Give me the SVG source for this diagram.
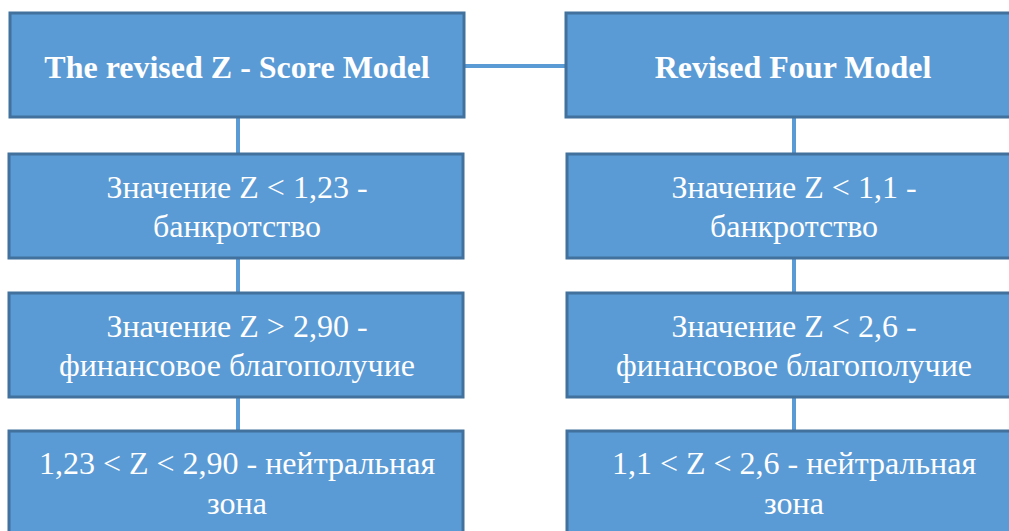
<svg xmlns="http://www.w3.org/2000/svg" width="1009" height="531" viewBox="0 0 1009 531">
<style>
.box{fill:#5B9BD5;stroke:#41719C;stroke-width:3}
.t{font-family:'Liberation Serif','Times New Roman','DejaVu Serif',serif;fill:#FFFFFF;text-anchor:middle;font-size:32px}
.h{font-weight:bold}
.c{stroke:#5B9BD5;stroke-width:4;fill:none}
</style>
<g id="connectors">
<line class="c" x1="465" y1="66" x2="565" y2="66"/>
<line class="c" x1="238" y1="117" x2="238" y2="154"/>
<line class="c" x1="238" y1="258" x2="238" y2="293"/>
<line class="c" x1="238" y1="397" x2="238" y2="431"/>
<line class="c" x1="794" y1="117" x2="794" y2="154"/>
<line class="c" x1="794" y1="258" x2="794" y2="293"/>
<line class="c" x1="794" y1="397" x2="794" y2="431"/>
</g>
<g id="n1"><rect class="box" x="10" y="13" width="454" height="104"/><text class="t h" x="237" y="78">The revised Z - Score Model</text></g>
<g id="n2"><rect class="box" x="566" y="13" width="454" height="104"/><text class="t h" x="793" y="78">Revised Four Model</text></g>
<g id="n3"><rect class="box" x="9" y="154" width="454" height="104"/><text class="t" x="237" y="198">Значение Z &lt; 1,23 -</text><text class="t" x="237" y="237">банкротство</text></g>
<g id="n4"><rect class="box" x="567" y="154" width="454" height="104"/><text class="t" x="794" y="198">Значение Z &lt; 1,1 -</text><text class="t" x="794" y="237">банкротство</text></g>
<g id="n5"><rect class="box" x="9" y="293" width="454" height="104"/><text class="t" x="237" y="337">Значение Z &gt; 2,90 -</text><text class="t" x="237" y="376">финансовое благополучие</text></g>
<g id="n6"><rect class="box" x="567" y="293" width="454" height="104"/><text class="t" x="794" y="337">Значение Z &lt; 2,6 -</text><text class="t" x="794" y="376">финансовое благополучие</text></g>
<g id="n7"><rect class="box" x="9" y="431" width="454" height="104"/><text class="t" x="237" y="474">1,23 &lt; Z &lt; 2,90 - нейтральная</text><text class="t" x="237" y="514">зона</text></g>
<g id="n8"><rect class="box" x="567" y="431" width="454" height="104"/><text class="t" x="794" y="474">1,1 &lt; Z &lt; 2,6 - нейтральная</text><text class="t" x="794" y="514">зона</text></g>
</svg>
